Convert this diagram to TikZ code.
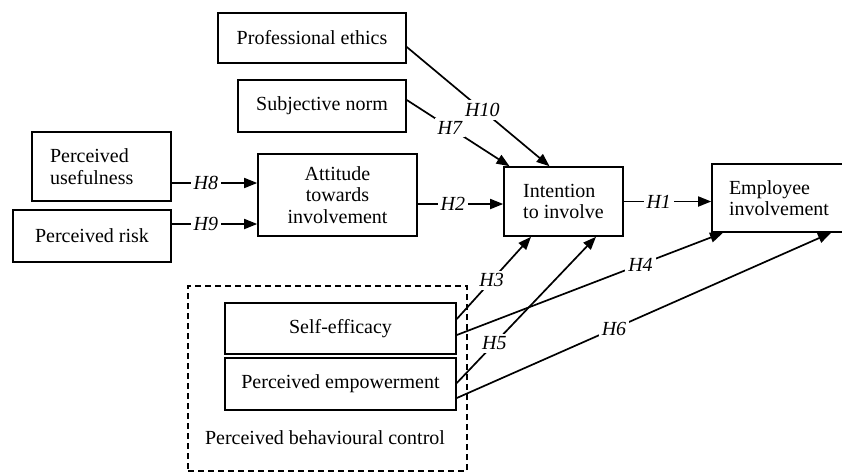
\documentclass[tikz,border=0pt]{standalone}
\usepackage{fontspec}
\setmainfont{Liberation Serif}
\usetikzlibrary{arrows.meta}
\tikzset{
  box/.style={draw, line width=1.6pt, inner sep=0pt, align=center,
    font=\fontsize{20}{21.5}\selectfont},
  lab/.style={fill=white, inner sep=3pt, font=\fontsize{20}{21.5}\selectfont\itshape},
  conn/.style={line width=1.7pt, -{Triangle[length=13pt,width=10pt]}},
  dbox/.style={draw, line width=1.5pt, dash pattern=on 6pt off 4pt, inner sep=0pt},
  plain/.style={inner sep=0pt, font=\fontsize{20}{21.5}\selectfont}
}
\begin{document}
\begin{tikzpicture}[x=1pt,y=-1pt]
\useasboundingbox (0,0) rectangle (842,472);
\clip (0,0) rectangle (842,472);
% boxes
\node[box, minimum width=188pt, minimum height=50pt] (pe) at (312,38) {Professional ethics};
\node[box, minimum width=168pt, minimum height=52pt] (sn) at (322,106) {Subjective norm};
\node[box, minimum width=139pt, minimum height=69pt, text width=103pt, align=left] (pu) at (101.5,166.5) {Perceived\\usefulness};
\node[box, minimum width=158pt, minimum height=52pt] (pr) at (92,236) {Perceived risk};
\node[box, minimum width=159pt, minimum height=82pt] (att) at (337.5,195) {Attitude\\towards\\involvement};
\node[box, minimum width=119pt, minimum height=69pt, align=left] (int) at (563.5,201.5) {Intention\\to involve};
\node[box, minimum width=134pt, minimum height=68pt, align=left] (ee) at (779,198) {Employee\\involvement};
\node[dbox, minimum width=279pt, minimum height=185pt] (pbc) at (327.5,378.5) {};
\node[box, minimum width=231pt, minimum height=51pt] (se) at (340.5,328.5) {Self-efficacy};
\node[box, minimum width=231pt, minimum height=52pt] (pem) at (340.5,384) {Perceived empowerment};
\node[plain] (pbct) at (325,438) {Perceived behavioural control};
% connectors
\draw[conn] ([yshift=-9pt]pe.east) -- node[lab, pos=0.53] (h10) {H10} ([xshift=-14pt]int.north);
\draw[conn] ([yshift=6pt]sn.east) -- node[lab, pos=0.42] (h7) {H7} ([xshift=-54pt]int.north);
\draw[conn] ([yshift=-16.5pt]pu.east) -- node[lab, pos=0.4] (h8) {H8} ([yshift=-16.5pt]pu.east -| att.west);
\draw[conn] ([yshift=12pt]pr.east) -- node[lab, pos=0.4] (h9) {H9} ([yshift=12pt]pr.east -| att.west);
\draw[conn] ([yshift=-9pt]att.east) -- node[lab, pos=0.41] (h2) {H2} ([yshift=-9pt]att.east -| int.west);
\draw[conn] (int.east) -- node[lab, pos=0.4] (h1) {H1} (int.east -| ee.west);
\draw[conn] ([yshift=9.5pt]se.east) -- node[lab, pos=0.47] (h3) {H3} ([xshift=-32.5pt]int.south);
\draw[conn] ([yshift=-6.5pt]se.east) -- node[lab, pos=0.69] (h4) {H4} ([xshift=-56pt]ee.south);
\draw[conn] ([yshift=1pt]pem.east) -- node[lab, pos=0.27] (h5) {H5} ([xshift=32.5pt]int.south);
\draw[conn] ([yshift=-14pt]pem.east) -- node[lab, pos=0.42] (h6) {H6} ([xshift=52pt]ee.south);
\end{tikzpicture}
\end{document}
